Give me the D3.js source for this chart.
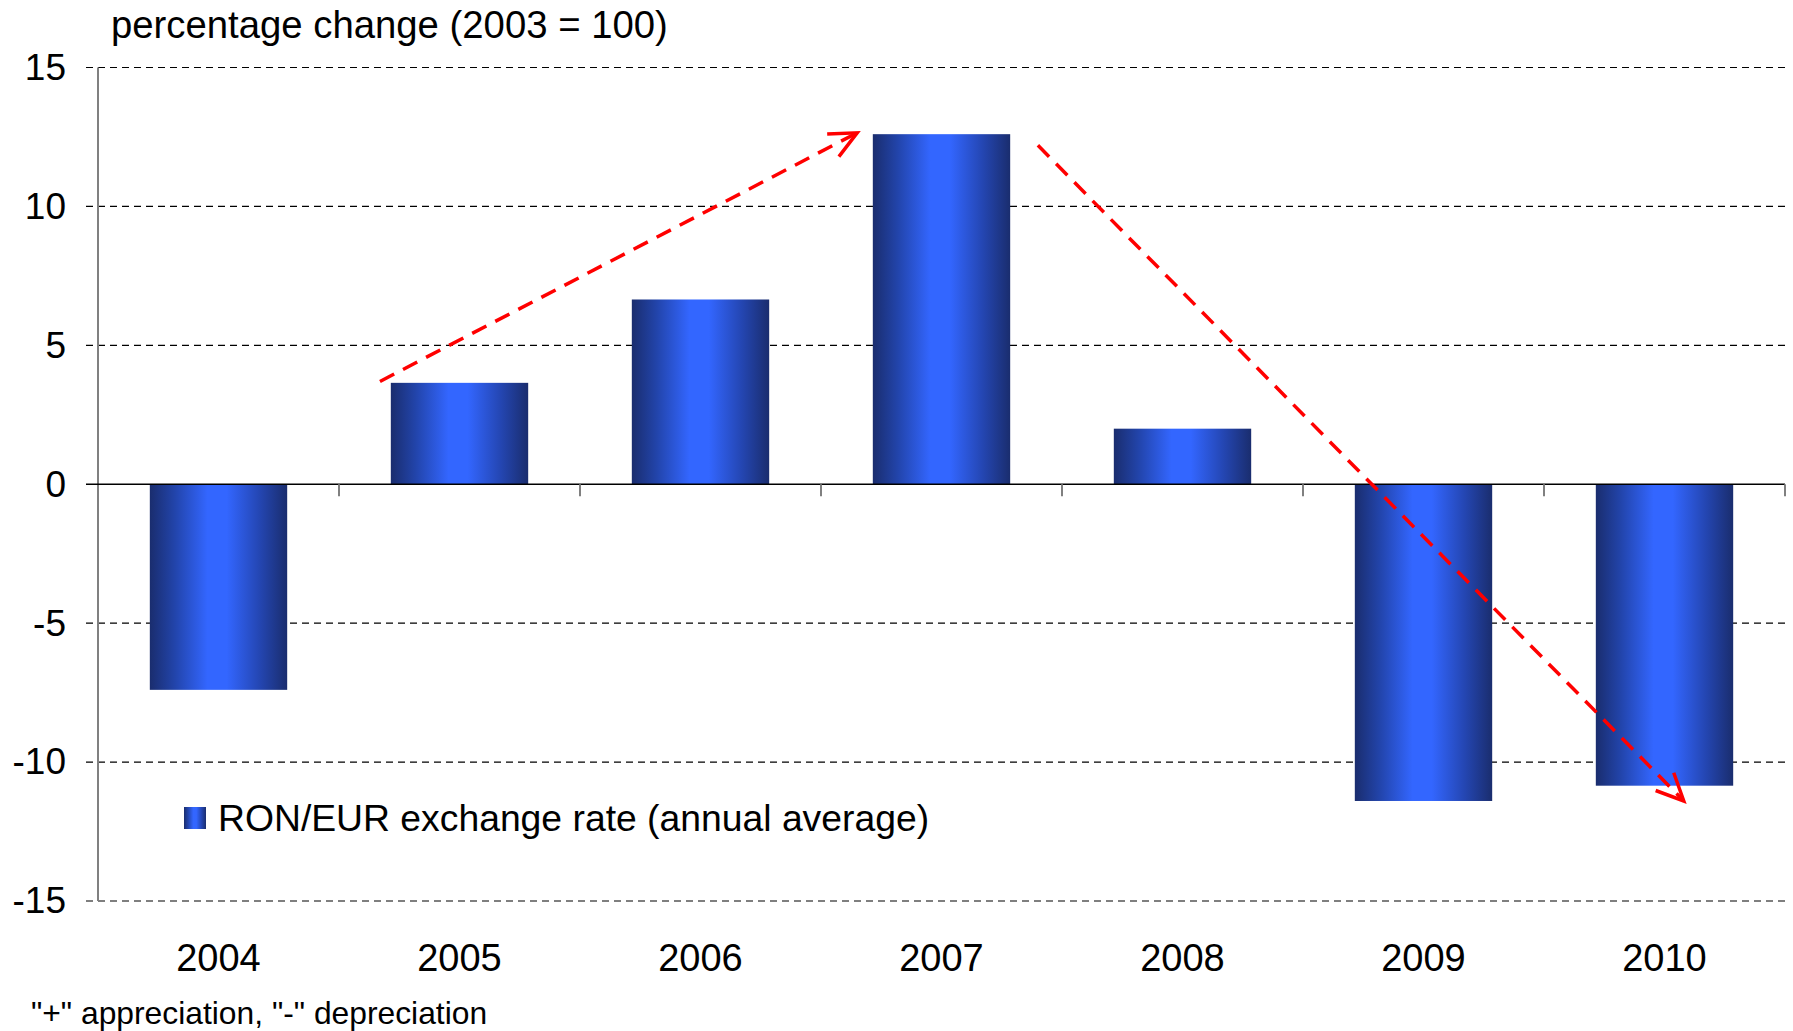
<!DOCTYPE html>
<html>
<head>
<meta charset="utf-8">
<script src="https://cdn.jsdelivr.net/npm/d3@7"></script>
<style>
  html, body { margin: 0; padding: 0; background: #fff; }
  svg { display: block; font-family: "Liberation Sans", Arial, Helvetica, sans-serif; }
</style>
</head>
<body>
<svg id="chart" width="1793" height="1031"></svg>
<script>
// RON/EUR exchange rate, annual average, percentage change vs. 2003
const years = ["2004", "2005", "2006", "2007", "2008", "2009", "2010"];
const values = [-7.4, 3.65, 6.65, 12.6, 2.0, -11.4, -10.85];
const yTicks = [-15, -10, -5, 0, 5, 10, 15];

const titleText = "percentage change (2003 = 100)";
const legendText = "RON/EUR exchange rate (annual average)";
const noteText = "\"+\" appreciation, \"-\" depreciation";

// Trend arrows, given as [year position, value]
const arrowUp = [[2004.67, 3.7], [2006.65, 12.65]];
const arrowDown = [[2007.4, 12.2], [2010.08, -11.4]];

const svg = d3.select("#chart");
const plotL = 98, plotR = 1785, plotT = 67.5, plotB = 901;

const x = d3.scaleBand().domain(years).range([plotL, plotR])
  .paddingInner(0.43).paddingOuter(0.215);
const y = d3.scaleLinear().domain([-15, 15]).range([plotB, plotT]);
// continuous year position -> pixel (centre of each band)
const xYear = d3.scaleLinear()
  .domain([+years[0], +years[years.length - 1]])
  .range([x(years[0]) + x.bandwidth() / 2, x(years[years.length - 1]) + x.bandwidth() / 2]);

// Bar gradient: dark edges, bright centre
const defs = svg.append("defs");
const grad = defs.append("linearGradient").attr("id", "barGrad")
  .attr("x1", "0%").attr("x2", "100%").attr("y1", "0%").attr("y2", "0%");
[["0%", "#1a2d6e"], ["18%", "#2244aa"], ["42%", "#3366ff"], ["56%", "#3366ff"], ["80%", "#2446b2"], ["100%", "#1a2d6e"]]
  .forEach(([o, c]) => grad.append("stop").attr("offset", o).attr("stop-color", c));

// Gridlines
svg.append("g").selectAll("line").data(yTicks.filter(d => d !== 0)).join("line")
  .attr("x1", plotL - 12).attr("x2", plotR)
  .attr("y1", d => y(d)).attr("y2", d => y(d))
  .attr("stroke", "#000").attr("stroke-width", 1.2).attr("stroke-dasharray", "7,5");

// Y axis (plain hyphen for negatives)
const yAxis = svg.append("g").attr("transform", `translate(${plotL},0)`)
  .call(d3.axisLeft(y).tickValues(yTicks).tickFormat(d => String(d)).tickSize(0).tickPadding(32));
yAxis.select(".domain").remove();
yAxis.selectAll("text").attr("font-size", 37).attr("fill", "#000")
  .attr("font-family", "Liberation Sans, Arial, sans-serif");
svg.append("line").attr("x1", plotL).attr("x2", plotL).attr("y1", plotT).attr("y2", plotB)
  .attr("stroke", "#808080").attr("stroke-width", 2);

// Bars
svg.append("g").selectAll("rect").data(years).join("rect")
  .attr("x", d => x(d))
  .attr("width", x.bandwidth())
  .attr("y", (d, i) => y(Math.max(0, values[i])))
  .attr("height", (d, i) => Math.abs(y(values[i]) - y(0)))
  .attr("fill", "url(#barGrad)");

// Zero line with category ticks
svg.append("line").attr("x1", plotL - 12).attr("x2", plotR).attr("y1", y(0)).attr("y2", y(0))
  .attr("stroke", "#000").attr("stroke-width", 1.5);
const boundaries = years.map(d => x(d) - x.step() * x.paddingInner() / 2).concat([plotR]);
svg.append("g").selectAll("line").data(boundaries.slice(1)).join("line")
  .attr("x1", d => d).attr("x2", d => d).attr("y1", y(0)).attr("y2", y(0) + 12)
  .attr("stroke", "#808080").attr("stroke-width", 2);

// Category labels
svg.append("g").selectAll("text").data(years).join("text")
  .attr("x", d => x(d) + x.bandwidth() / 2).attr("y", 971)
  .attr("text-anchor", "middle").attr("font-size", 38).attr("fill", "#000")
  .text(d => d);

// Title
svg.append("text").attr("x", 111).attr("y", 38).attr("font-size", 38.3).attr("fill", "#000").text(titleText);

// Legend
svg.append("rect").attr("x", 184).attr("y", 807).attr("width", 22).attr("height", 22).attr("fill", "url(#barGrad)");
svg.append("text").attr("x", 218).attr("y", 831).attr("font-size", 37.3).attr("fill", "#000").text(legendText);

// Footnote
svg.append("text").attr("x", 31).attr("y", 1024).attr("font-size", 31.8).attr("fill", "#000").text(noteText);

// Trend arrows
function drawArrow(pts) {
  const [p0, p1] = pts.map(([yr, v]) => [xYear(yr), y(v)]);
  svg.append("line").attr("x1", p0[0]).attr("y1", p0[1]).attr("x2", p1[0]).attr("y2", p1[1])
    .attr("stroke", "#ff0000").attr("stroke-width", 3.5).attr("stroke-dasharray", "16,10");
  const ang = Math.atan2(p1[1] - p0[1], p1[0] - p0[0]);
  const len = 30, spread = 25 * Math.PI / 180;
  const head = [ang + Math.PI - spread, ang + Math.PI + spread].map(a => [p1[0] + len * Math.cos(a), p1[1] + len * Math.sin(a)]);
  svg.append("path")
    .attr("d", `M${head[0][0]},${head[0][1]}L${p1[0]},${p1[1]}L${head[1][0]},${head[1][1]}`)
    .attr("fill", "none").attr("stroke", "#ff0000").attr("stroke-width", 3.5);
}
drawArrow(arrowUp);
drawArrow(arrowDown);
</script>
</body>
</html>
